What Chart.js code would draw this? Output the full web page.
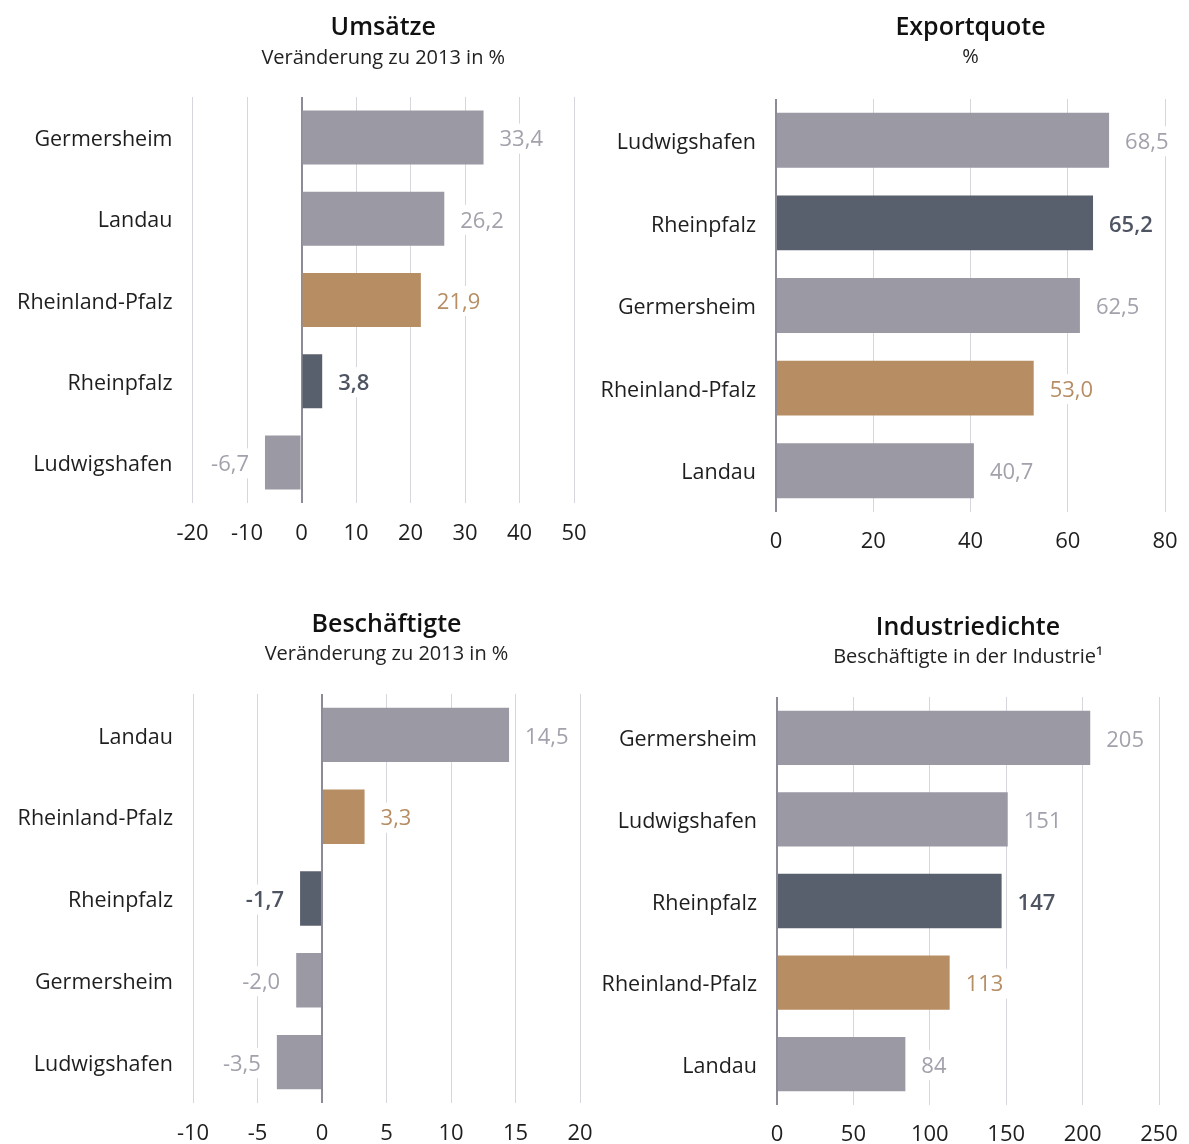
<!DOCTYPE html>
<html lang="de">
<head>
<meta charset="utf-8">
<title>Umsätze, Exportquote, Beschäftigte, Industriedichte</title>
<script src="https://cdn.jsdelivr.net/npm/chart.js@4.4.1/dist/chart.umd.min.js"></script>
<style>
  html, body { margin: 0; padding: 0; background: #ffffff; }
  body { width: 1189px; height: 1144px; position: relative; overflow: hidden; }
  .panel { position: absolute; }
</style>
</head>
<body>
<div class="panel" style="left:0px;top:0px;"><canvas id="umsatz" width="600" height="565"></canvas></div>
<div class="panel" style="left:590px;top:0px;"><canvas id="export" width="599" height="565"></canvas></div>
<div class="panel" style="left:0px;top:585px;"><canvas id="beschaeftigte" width="600" height="559"></canvas></div>
<div class="panel" style="left:590px;top:585px;"><canvas id="industrie" width="599" height="559"></canvas></div>

<script>
// ---- Data ----
const umsatzCategories = ['Germersheim', 'Landau', 'Rheinland-Pfalz', 'Rheinpfalz', 'Ludwigshafen'];
const umsatzValues = [33.4, 26.2, 21.9, 3.8, -6.7];
const umsatzTicks = [-20, -10, 0, 10, 20, 30, 40, 50];

const exportCategories = ['Ludwigshafen', 'Rheinpfalz', 'Germersheim', 'Rheinland-Pfalz', 'Landau'];
const exportValues = [68.5, 65.2, 62.5, 53.0, 40.7];
const exportTicks = [0, 20, 40, 60, 80];

const beschCategories = ['Landau', 'Rheinland-Pfalz', 'Rheinpfalz', 'Germersheim', 'Ludwigshafen'];
const beschValues = [14.5, 3.3, -1.7, -2.0, -3.5];
const beschTicks = [-10, -5, 0, 5, 10, 15, 20];

const industrieCategories = ['Germersheim', 'Ludwigshafen', 'Rheinpfalz', 'Rheinland-Pfalz', 'Landau'];
const industrieValues = [205, 151, 147, 113, 84];
const industrieTicks = [0, 50, 100, 150, 200, 250];

// ---- Styles ----
const FONT = '"Open Sans", Lato, "DejaVu Sans", sans-serif';
const regionStyle = {
  'Rheinland-Pfalz': { bar: '#b78d63', label: '#b78d63', weight: '400' },
  'Rheinpfalz':      { bar: '#585f6d', label: '#4e5462', weight: '600' },
  'default':         { bar: '#9a99a4', label: '#a3a2ac', weight: '400' }
};
const styleFor = name => regionStyle[name] || regionStyle['default'];

// Value labels next to each bar, on a white box that cuts through the grid lines
const valueLabels = {
  id: 'valueLabels',
  afterDatasetsDraw(chart, args, opts) {
    const ctx = chart.ctx;
    const meta = chart.getDatasetMeta(0);
    const data = chart.data.datasets[0].data;
    const cats = chart.data.labels;
    ctx.save();
    meta.data.forEach((bar, i) => {
      const v = data[i];
      const st = styleFor(cats[i]);
      const txt = v.toFixed(opts.decimals).replace('.', ',');
      ctx.font = st.weight + ' 22px ' + FONT;
      const w = ctx.measureText(txt).width;
      const gap = 16;
      const x = v >= 0 ? bar.x + gap : bar.x - gap - w;
      const y = bar.y;
      ctx.fillStyle = '#ffffff';
      ctx.fillRect(x - 4, y - 14, w + 8, 30);
      ctx.fillStyle = st.label;
      ctx.textAlign = 'left';
      ctx.textBaseline = 'middle';
      ctx.fillText(txt, x, y + 2.5);
    });
    ctx.restore();
  }
};

function makeChart(id, cfg) {
  const tickList = cfg.ticks;
  return new Chart(document.getElementById(id), {
    type: 'bar',
    data: {
      labels: cfg.categories,
      datasets: [{
        data: cfg.values,
        backgroundColor: cfg.categories.map(c => styleFor(c).bar),
        borderWidth: 0,
        barPercentage: 0.665,
        categoryPercentage: 1
      }]
    },
    options: {
      indexAxis: 'y',
      responsive: false,
      animation: false,
      layout: { padding: { left: 0, right: cfg.padRight, top: 0, bottom: cfg.padBottom } },
      plugins: {
        legend: { display: false },
        tooltip: { enabled: false },
        title: {
          display: true,
          text: cfg.title,
          fullSize: false,
          color: '#111111',
          font: { family: FONT, size: 25, weight: '600', lineHeight: 1.2 },
          padding: { top: cfg.titleTop, bottom: 0 }
        },
        subtitle: {
          display: true,
          text: cfg.subtitle,
          fullSize: false,
          color: '#222222',
          font: { family: FONT, size: 20, weight: '400', lineHeight: 1.2 },
          padding: { top: cfg.subTop, bottom: cfg.subBottom }
        },
        valueLabels: { decimals: cfg.decimals }
      },
      scales: {
        x: {
          min: tickList[0],
          max: tickList[tickList.length - 1],
          afterBuildTicks: axis => { axis.ticks = tickList.map(v => ({ value: v })); },
          afterFit: axis => {
            axis.height = 50;
            axis.paddingLeft = 0;
            axis.paddingRight = 0;
          },
          grid: {
            drawTicks: false,
            color: c => (c.tick && c.tick.value === 0) ? '#8c8b97' : '#d6d6dd',
            lineWidth: c => (c.tick && c.tick.value === 0) ? 2 : 1
          },
          border: { display: false },
          ticks: {
            padding: cfg.tickPad,
            color: '#1e1e1e',
            font: { family: FONT, size: 22 },
            maxRotation: 0,
            autoSkip: false
          }
        },
        y: {
          afterFit: axis => {
            axis.width = cfg.axisWidth;
            axis.paddingTop = 0;
            axis.paddingBottom = 0;
          },
          grid: { display: false, drawTicks: false },
          border: { display: false },
          ticks: {
            padding: 20,
            labelOffset: 2.5,
            color: '#1e1e1e',
            font: { family: FONT, size: 21.5 }
          }
        }
      }
    },
    plugins: [valueLabels]
  });
}

makeChart('umsatz', {
  categories: umsatzCategories, values: umsatzValues, ticks: umsatzTicks, decimals: 1,
  title: 'Umsätze', subtitle: 'Veränderung zu 2013 in %',
  axisWidth: 192.5, padRight: 26, padBottom: 12,
  titleTop: 12.5, subTop: 3.5, subBottom: 27, tickPad: 17.5
});

makeChart('export', {
  categories: exportCategories, values: exportValues, ticks: exportTicks, decimals: 1,
  title: 'Exportquote', subtitle: '%',
  axisWidth: 186, padRight: 24, padBottom: 3,
  titleTop: 12.5, subTop: 2.5, subBottom: 30, tickPad: 16.5
});

makeChart('beschaeftigte', {
  categories: beschCategories, values: beschValues, ticks: beschTicks, decimals: 1,
  title: 'Beschäftigte', subtitle: 'Veränderung zu 2013 in %',
  axisWidth: 193, padRight: 20, padBottom: -9,
  titleTop: 24.5, subTop: 2.5, subBottom: 28, tickPad: 17.5
});

makeChart('industrie', {
  categories: industrieCategories, values: industrieValues, ticks: industrieTicks, decimals: 0,
  title: 'Industriedichte', subtitle: 'Beschäftigte in der Industrie¹',
  axisWidth: 187, padRight: 30, padBottom: -11,
  titleTop: 27.5, subTop: 2.5, subBottom: 28, tickPad: 16.5
});
</script>
</body>
</html>
